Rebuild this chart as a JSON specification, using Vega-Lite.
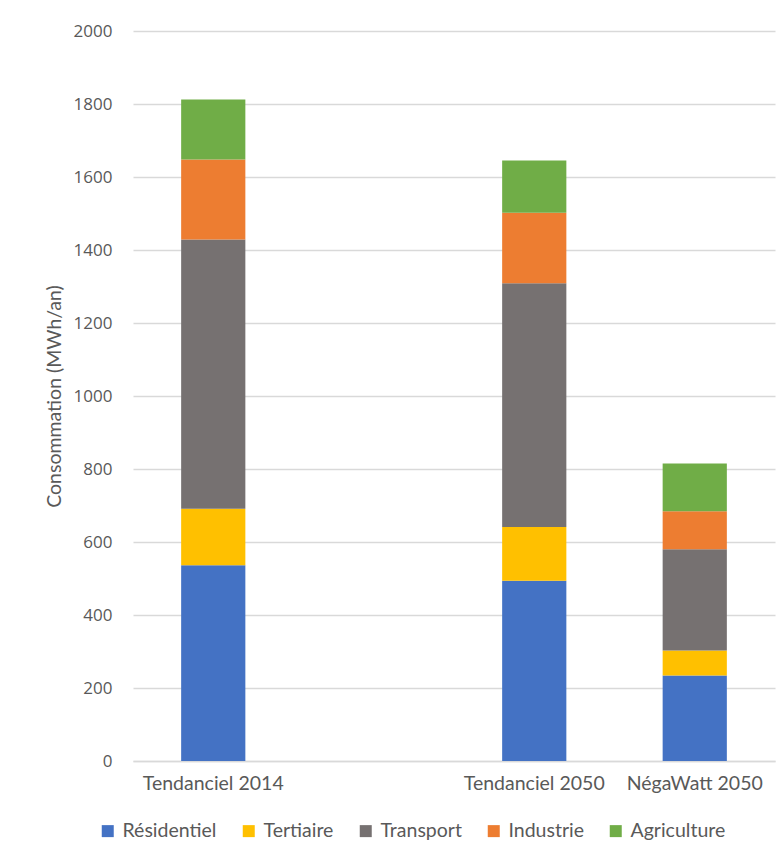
{
  "$schema": "https://vega.github.io/schema/vega-lite/v6.json",
  "autosize": {"type": "none"},
  "padding": {"left": 133, "top": 31, "right": 9, "bottom": 95},
  "width": 642,
  "height": 730,
  "background": "white",
  "data": {
    "values": [
      {"scenario": "Tendanciel 2014", "secteur": "Résidentiel", "conso": 536},
      {"scenario": "Tendanciel 2014", "secteur": "Tertiaire", "conso": 155},
      {"scenario": "Tendanciel 2014", "secteur": "Transport", "conso": 738},
      {"scenario": "Tendanciel 2014", "secteur": "Industrie", "conso": 219},
      {"scenario": "Tendanciel 2014", "secteur": "Agriculture", "conso": 164},
      {"scenario": "Tendanciel 2050", "secteur": "Résidentiel", "conso": 494},
      {"scenario": "Tendanciel 2050", "secteur": "Tertiaire", "conso": 147},
      {"scenario": "Tendanciel 2050", "secteur": "Transport", "conso": 668},
      {"scenario": "Tendanciel 2050", "secteur": "Industrie", "conso": 193},
      {"scenario": "Tendanciel 2050", "secteur": "Agriculture", "conso": 143},
      {"scenario": "NégaWatt 2050", "secteur": "Résidentiel", "conso": 234},
      {"scenario": "NégaWatt 2050", "secteur": "Tertiaire", "conso": 69},
      {"scenario": "NégaWatt 2050", "secteur": "Transport", "conso": 277},
      {"scenario": "NégaWatt 2050", "secteur": "Industrie", "conso": 104},
      {"scenario": "NégaWatt 2050", "secteur": "Agriculture", "conso": 131}
    ]
  },
  "transform": [
    {"calculate": "indexof(['Résidentiel', 'Tertiaire', 'Transport', 'Industrie', 'Agriculture'], datum.secteur)", "as": "rang_secteur"}
  ],
  "mark": {"type": "bar"},
  "encoding": {
    "x": {
      "field": "scenario",
      "type": "nominal",
      "sort": null,
      "scale": {
        "domain": ["Tendanciel 2014", " ", "Tendanciel 2050", "NégaWatt 2050"],
        "paddingInner": 0.6,
        "paddingOuter": 0.3
      },
      "axis": {
        "title": null,
        "labelAngle": 0,
        "labelFont": "Lato",
        "labelFontSize": 19.5,
        "labelColor": "#595959",
        "labelPadding": 13,
        "ticks": false,
        "tickSize": 0,
        "domainColor": "#d9d9d9",
        "domainWidth": 1.5,
        "grid": false
      }
    },
    "y": {
      "field": "conso",
      "type": "quantitative",
      "stack": "zero",
      "scale": {"domain": [0, 2000], "nice": false},
      "axis": {
        "title": "Consommation (MWh/an)",
        "titleFont": "Lato",
        "titleFontSize": 19.5,
        "titleFontWeight": "normal",
        "titleColor": "#595959",
        "titlePadding": 9,
        "values": [0, 200, 400, 600, 800, 1000, 1200, 1400, 1600, 1800, 2000],
        "format": "d",
        "labelFont": "Open Sans",
        "labelFontSize": 17,
        "labelColor": "#595959",
        "labelPadding": 21,
        "ticks": false,
        "tickSize": 0,
        "domain": false,
        "grid": true,
        "gridColor": "#d9d9d9",
        "gridWidth": 1.5
      }
    },
    "color": {
      "field": "secteur",
      "type": "nominal",
      "sort": ["Résidentiel", "Tertiaire", "Transport", "Industrie", "Agriculture"],
      "scale": {
        "domain": ["Résidentiel", "Tertiaire", "Transport", "Industrie", "Agriculture"],
        "range": ["#4472C4", "#FFC000", "#767171", "#ED7D31", "#70AD47"]
      },
      "legend": {
        "title": null,
        "orient": "none",
        "direction": "horizontal",
        "legendX": -35,
        "legendY": 790,
        "symbolType": "square",
        "symbolSize": 144,
        "symbolStrokeWidth": 0,
        "labelFont": "Lato",
        "labelFontSize": 19.5,
        "labelColor": "#595959",
        "labelOffset": 5,
        "columnPadding": 22
      }
    },
    "order": {"field": "rang_secteur", "type": "quantitative", "sort": "ascending"}
  },
  "config": {
    "view": {"stroke": null}
  }
}
